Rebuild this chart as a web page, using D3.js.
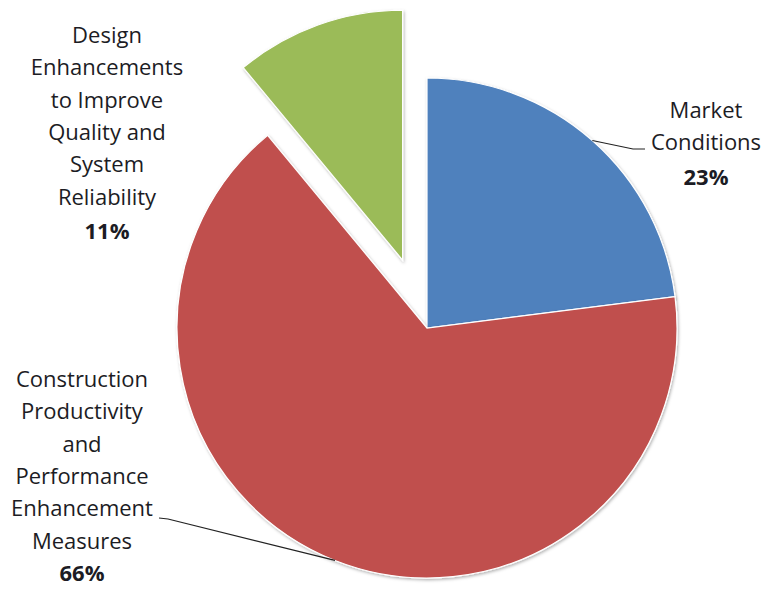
<!DOCTYPE html>
<html>
<head>
<meta charset="utf-8">
<script src="https://cdn.jsdelivr.net/npm/d3@7"></script>
<style>
    body { margin: 0; background: #fff; }
    svg { display: block; }
    text { font-family: "Open Sans", sans-serif; fill: #1c1c24; }
</style>
</head>
<body>
<svg id="chart" width="766" height="589"></svg>
<script>
// values in percent, clockwise from 12 o'clock
const categories = [
    "Market Conditions",
    "Construction Productivity and Performance Enhancement Measures",
    "Design Enhancements to Improve Quality and System Reliability"
];
const values = [23, 66, 11];
const labelLines = [
    ["Market", "Conditions"],
    ["Construction", "Productivity", "and", "Performance", "Enhancement", "Measures"],
    ["Design", "Enhancements", "to Improve", "Quality and", "System", "Reliability"]
];
const pctLabels = ["23%", "66%", "11%"];
const colors = ["#4f81bd", "#c0504d", "#9bbb59"];

// layout
const cx = 427, cy = 328, radius = 250;
const explode = [0, 0, 72];
const labelPos = [
    { x: 706, y: 118, pctGap: 2 },
    { x: 82, y: 387, pctGap: 0 },
    { x: 107, y: 43, pctGap: 2 }
];
const lineGap = 32.3;

const svg = d3.select("#chart");

const defs = svg.append("defs");
const shadow = defs.append("filter").attr("id", "shadow")
    .attr("x", "-10%").attr("y", "-10%").attr("width", "120%").attr("height", "120%");
shadow.append("feDropShadow")
    .attr("dx", 1).attr("dy", 1.5).attr("stdDeviation", 1.5)
    .attr("flood-color", "#000").attr("flood-opacity", 0.3);

const color = d3.scaleOrdinal().domain(categories).range(colors);

const pie = d3.pie().sort(null).value(d => d.value);
const arcs = pie(values.map((v, i) => ({ name: categories[i], value: v, i })));

const arc = d3.arc().innerRadius(0).outerRadius(radius);

const g = svg.append("g").attr("transform", `translate(${cx},${cy})`);

function offset(d) {
    const a = (d.startAngle + d.endAngle) / 2;
    const k = explode[d.data.i];
    return [Math.sin(a) * k, -Math.cos(a) * k];
}

g.selectAll("path.slice")
    .data(arcs)
    .join("path")
    .attr("class", "slice")
    .attr("d", arc)
    .attr("transform", d => `translate(${offset(d)})`)
    .attr("fill", d => color(d.data.name))
    .attr("stroke", "#fff")
    .attr("stroke-width", 1.2)
    .attr("filter", "url(#shadow)");

// leader lines start at slice mid-angle on the rim
function rimPoint(d) {
    const a = (d.startAngle + d.endAngle) / 2;
    return [cx + Math.sin(a) * radius, cy - Math.cos(a) * radius];
}

const leaders = [
    { i: 0, pts: [[633, 149], [645, 149]] },
    { i: 1, pts: [[168, 519], [159, 518]] }
];
const line = d3.line().curve(d3.curveLinear);
svg.selectAll("path.leader")
    .data(leaders)
    .join("path")
    .attr("class", "leader")
    .attr("d", d => line([rimPoint(arcs[d.i])].concat(d.pts)))
    .attr("fill", "none")
    .attr("stroke", "#222")
    .attr("stroke-width", 1.2);

// labels
const labels = svg.selectAll("text.label")
    .data(arcs)
    .join("text")
    .attr("class", "label")
    .attr("text-anchor", "middle")
    .attr("font-size", 22);

labels.each(function (d) {
    const t = d3.select(this);
    const p = labelPos[d.data.i];
    const lines = labelLines[d.data.i];
    lines.forEach((s, k) => {
        t.append("tspan")
            .attr("x", p.x)
            .attr("y", p.y + k * lineGap)
            .text(s);
    });
    t.append("tspan")
        .attr("x", p.x)
        .attr("y", p.y + lines.length * lineGap + p.pctGap)
        .attr("font-weight", "bold")
        .text(pctLabels[d.data.i]);
});
</script>
</body>
</html>
